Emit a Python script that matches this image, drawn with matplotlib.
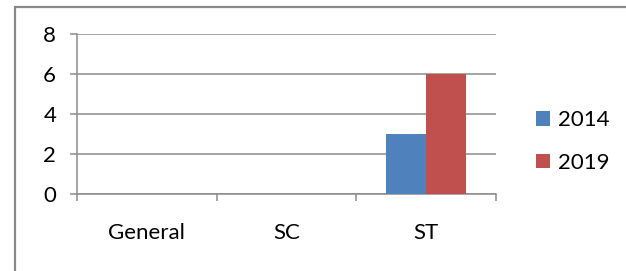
import matplotlib
matplotlib.use("Agg")
import matplotlib.pyplot as plt
from matplotlib.lines import Line2D
import numpy as np

categories = ["General", "SC", "ST"]
series_names = ["2014", "2019"]
values_2014 = [0, 0, 3]
values_2019 = [0, 0, 6]
yticks = [0, 2, 4, 6, 8]
colors = ["#4F81BD", "#C0504D"]

plt.rcParams['font.family'] = ['Lato', 'DejaVu Sans']
W, H = 626, 271
fig = plt.figure(figsize=(W / 100, H / 100), dpi=100)
ax = fig.add_axes([77 / W, 1 - 194 / H, (496 - 77) / W, (194 - 34.3) / H])

x = np.arange(len(categories)) + 0.5
bw = 0.287
ax.bar(x - bw / 2, values_2014, bw, color=colors[0], label=series_names[0], zorder=3)
ax.bar(x + bw / 2, values_2019, bw, color=colors[1], label=series_names[1], zorder=3)

ax.set_xlim(0, len(categories))
ax.set_ylim(0, 8)
ax.set_yticks(yticks)
ax.set_yticklabels([str(v) for v in yticks])
ax.set_xticks(x)
ax.set_xticklabels(categories)
ax.set_xticks(np.arange(len(categories) + 1), minor=True)

gcol = "#8c8c8c"
ax.yaxis.grid(True, color=gcol, linewidth=1.1, zorder=0)
ax.set_axisbelow(True)
for s in ["top", "right"]:
    ax.spines[s].set_visible(False)
for s in ["left", "bottom"]:
    ax.spines[s].set_color(gcol)
    ax.spines[s].set_linewidth(1.1)

fs = 16
ax.tick_params(axis="y", which="major", length=5, width=1.1, color=gcol, pad=10, labelsize=fs)
ax.tick_params(axis="x", which="major", length=0, pad=21, labelsize=fs)
ax.tick_params(axis="x", which="minor", length=5, width=1.1, color=gcol)

leg = fig.legend(loc="center left", bbox_to_anchor=(536 / W, 1 - 141.5 / H),
                 frameon=False, fontsize=fs, handlelength=0.62, handleheight=0.62,
                 handletextpad=0.35, labelspacing=1.0, borderpad=0, borderaxespad=0)

bcol = "#898989"
fig.add_artist(Line2D([14.5 / W, 14.5 / W, 1.0], [0, 1 - 6.5 / H, 1 - 6.5 / H],
                      transform=fig.transFigure, color=bcol, linewidth=1.6,
                      solid_joinstyle="miter"))

fig.savefig("out.png", dpi=100)
